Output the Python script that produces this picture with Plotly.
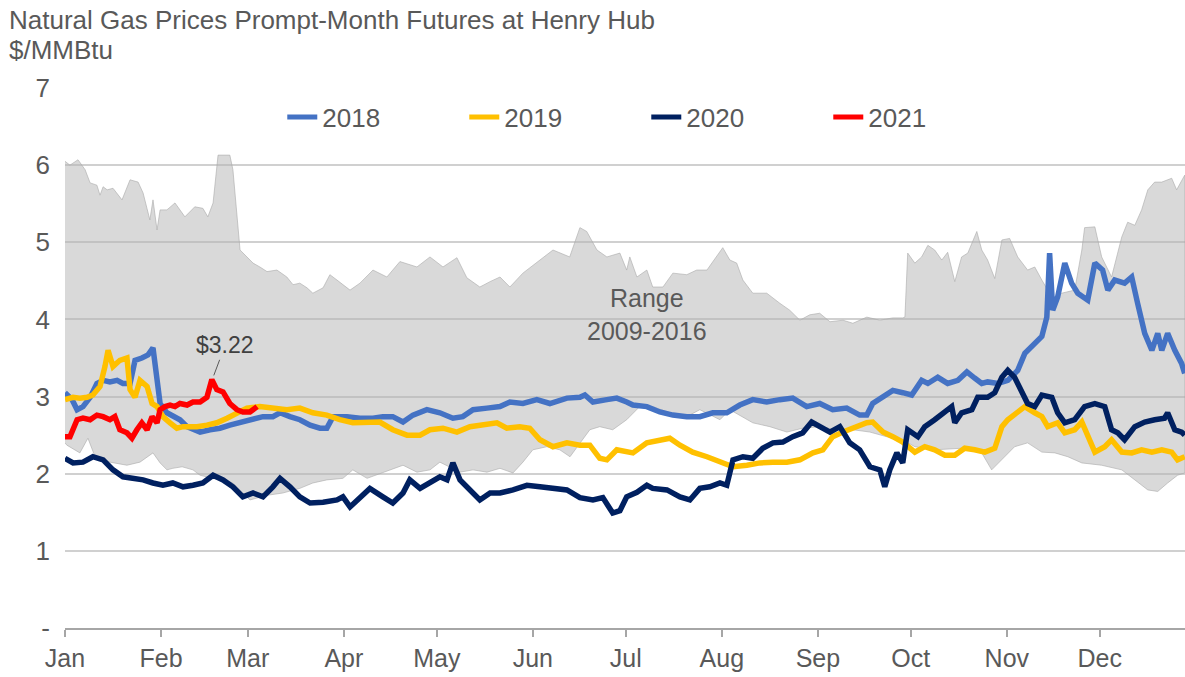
import plotly.graph_objects as go

# ---------------- data (day of year offsets from Jan 1, price in $/MMBtu) ----------------
month_days = [0, 31, 59, 90, 120, 151, 181, 212, 243, 273, 304, 334]
month_labels = ["Jan", "Feb", "Mar", "Apr", "May", "Jun", "Jul", "Aug", "Sep", "Oct", "Nov", "Dec"]
y_ticks = [0, 1, 2, 3, 4, 5, 6, 7]
y_labels = ["-", "1", "2", "3", "4", "5", "6", "7"]

range_hi_day = [0, 1.6, 4.2, 6.5, 8.1, 10.3, 11.3, 12.3, 13.6, 15.5, 18.4, 21, 23.6, 25.2, 27.4, 28.4, 29.7,
                30.7, 32.9, 35.5, 38.7, 41.9, 44.5, 46.1, 47.8, 49.4, 53.2, 54.2, 56.5, 58.7, 60.7, 62.9,
                65.2, 68.4, 71.6, 73.6, 75.8, 78.1, 80, 83.3, 85.5, 87.8, 91, 92, 95.2, 99.4, 103.9, 108.1,
                113.6, 117.8, 122, 126.5, 129.7, 133.9, 137.2, 140.4, 143.6, 147.8, 153.3, 157.5, 162.9,
                166.2, 168.4, 171.7, 174.9, 179.1, 181.3, 182.3, 184.6, 187.8, 189.7, 193, 196.2, 200.7,
                203.9, 207.2, 212.3, 214.6, 216.8, 218.8, 222, 226.5, 230.7, 233.9, 237.2, 240.4, 243.6,
                246.9, 251.1, 254.3, 258.8, 263, 267.2, 270.4, 271.1, 272, 274.3, 276.5, 278.5, 280.7, 283,
                284.9, 287.2, 289.4, 291.4, 294.3, 295.9, 297.8, 300.1, 302.4, 304.9, 307.5, 310.7, 313,
                315.3, 317.2, 319.5, 321.7, 325.9, 328.2, 329.1, 332.4, 334.6, 337.8, 341.1, 343, 345.3,
                347.5, 349.5, 351.7, 354, 357.2, 358.8, 361.4]
range_hi_val = [6.05, 6.0, 6.07, 5.94, 5.77, 5.74, 5.61, 5.72, 5.68, 5.7, 5.55, 5.81, 5.78, 5.64, 5.29, 5.55, 5.16,
                5.42, 5.42, 5.51, 5.33, 5.46, 5.44, 5.33, 5.51, 6.13, 6.13, 5.94, 4.9, 4.81, 4.73, 4.68,
                4.62, 4.64, 4.55, 4.45, 4.47, 4.41, 4.34, 4.41, 4.58, 4.51, 4.41, 4.38, 4.47, 4.64, 4.55, 4.75,
                4.68, 4.81, 4.68, 4.80, 4.54, 4.42, 4.49, 4.55, 4.42, 4.6, 4.77, 4.9, 4.81,
                5.19, 5.14, 4.9, 4.81, 4.86, 4.64, 4.81, 4.55, 4.64, 4.42, 4.42, 4.6, 4.58,
                4.64, 4.64, 4.93, 4.77, 4.73, 4.51, 4.34, 4.34, 4.21, 4.12, 3.99, 4.06, 4.08,
                3.97, 3.99, 3.95, 4.03, 3.99, 4.02, 4.02, 4.03, 4.86, 4.73, 4.81, 4.96, 4.9, 4.77,
                4.87, 4.49, 4.81, 4.86, 5.14, 4.9, 4.77, 4.53, 5.03, 5.05, 4.81, 4.64, 4.68,
                4.51, 4.38, 4.29, 4.34, 4.38, 4.9, 5.19, 5.2, 4.81, 4.55, 5.07, 5.26, 5.22,
                5.42, 5.68, 5.78, 5.78, 5.83, 5.68, 5.87]

range_lo_day = [0, 0.6, 4.8, 7.4, 9.7, 14.5, 20, 24.2, 28.4, 30.7, 32.9, 34.8, 37.8, 41.3, 43.6, 49, 54.2, 59.7,
                65.2, 70.3, 75.8, 80, 84.5, 89.7, 92.9, 97.5, 100.7, 104.9, 109.1, 113.6, 117.8, 121, 124.2,
                127.5, 131.7, 136.2, 140.4, 144.6, 147.8, 151, 155.5, 159.7, 163, 166.2, 169.4, 172.6, 176.8,
                181.3, 185.5, 189.7, 195.2, 200.7, 204.9, 211.4, 214.6, 222, 227.5, 233, 238.1, 243.6, 249.1,
                254.3, 259.8, 265.2, 270.4, 274.3, 280.7, 289.4, 295.9, 299.1, 301.1, 306.5, 310.7, 315.3,
                319.5, 323.7, 328.2, 334.6, 341.1, 345.3, 349.5, 352.7, 355.9, 359.1, 361.4]
range_lo_val = [2.4, 2.37, 2.27, 2.46, 2.22, 2.15, 2.11, 2.15, 2.27, 2.14, 2.05, 2.07, 2.09, 2.05, 1.98, 1.93, 1.88, 1.66,
                1.72, 1.75, 1.81, 1.88, 1.92, 1.94, 2.05, 1.94, 1.98, 2.05, 2.11, 2.02, 2.05, 2.15, 2.09,
                2.02, 2.05, 2.02, 2.07, 2.01, 2.15, 2.31, 2.35, 2.31, 2.22, 2.4, 2.57, 2.61, 2.57,
                2.7, 2.87, 2.87, 2.79, 2.74, 2.83, 2.7, 2.83, 2.66, 2.61, 2.54, 2.59, 2.61, 2.57,
                2.57, 2.54, 2.48, 2.44, 2.35, 2.31, 2.33, 2.27, 2.05, 2.14, 2.35, 2.4, 2.28,
                2.27, 2.22, 2.14, 2.11, 2.05, 1.92, 1.79, 1.77, 1.88, 1.98, 2.01]

day_2018 = [0, 2.3, 3.9, 5.8, 8.1, 10.3, 12.3, 14.5, 16.8, 18.7, 21, 22.6, 24.8, 26.8, 28.4, 29.7, 30.7, 32.9, 34.8,
            37.1, 39.4, 41.3, 43.6, 46.8, 50, 53.2, 57.4, 60.7, 63.9, 67.1, 69.4, 72.6, 75.8, 79.1, 82.3, 84.5,
            86.5, 91, 95.2, 99.4, 102.6, 105.8, 109.1, 112.3, 116.8, 121, 125.2, 128.4, 131.7, 136.2, 140.4,
            143.6, 147.8, 152.3, 156.5, 162, 166.2, 167.8, 170.4, 174.9, 178.1, 181.3, 183.3, 187.8, 192,
            196.2, 200.7, 204.9, 209.1, 213.6, 217.8, 222, 226.5, 230.7, 234.9, 239.4, 243.6, 247.8, 252.3,
            256.5, 258.8, 260.7, 264, 267.2, 270.4, 273.3, 276.5, 278.5, 281.7, 284.9, 288.2, 291.1, 293.6,
            295.9, 297.8, 301.1, 304.3, 307.5, 309.8, 313, 315.3, 316.9, 317.8, 318.8, 320.4, 322.7, 324.9,
            326.9, 330.1, 332.4, 334.9, 336.6, 338.8, 342, 344.3, 346.2, 348.5, 350.8, 352.7, 354, 355.9,
            358.2, 360.4, 361.4]
val_2018 = [3.05, 2.96, 2.83, 2.87, 2.99, 3.17, 3.21, 3.19, 3.21, 3.17, 3.17, 3.47, 3.5, 3.54, 3.63, 3.25, 2.91, 2.79, 2.74,
            2.7, 2.61, 2.57, 2.54, 2.57, 2.59, 2.63, 2.67, 2.7, 2.74, 2.74, 2.79, 2.74, 2.7, 2.63, 2.59, 2.59,
            2.74, 2.74, 2.72, 2.72, 2.74, 2.74, 2.67, 2.76, 2.83, 2.79, 2.72, 2.74, 2.83, 2.85, 2.87,
            2.93, 2.91, 2.96, 2.91, 2.98, 2.99, 3.02, 2.93, 2.96, 2.98, 2.93, 2.89, 2.87, 2.8,
            2.76, 2.74, 2.74, 2.79, 2.79, 2.89, 2.96, 2.93, 2.96, 2.98, 2.87, 2.91, 2.83, 2.85,
            2.76, 2.76, 2.91, 2.99, 3.08, 3.05, 3.02, 3.21, 3.17, 3.25, 3.17, 3.21, 3.32, 3.24,
            3.17, 3.19, 3.17, 3.21, 3.34, 3.56, 3.69, 3.78, 4.03, 4.86, 4.12, 4.29, 4.73, 4.47,
            4.34, 4.25, 4.73, 4.64, 4.38, 4.51, 4.47, 4.55, 4.21, 3.82, 3.6, 3.82, 3.6, 3.82,
            3.6, 3.43, 3.3]

day_2019 = [0, 2.6, 4.8, 7.1, 9, 11.3, 12.9, 13.9, 15.5, 17.7, 20, 21, 22.6, 24.2, 26.5, 28.1, 29.7, 31.6, 33.9,
            36.1, 38.1, 40.3, 42.6, 45.8, 49, 52.3, 55.5, 58.7, 62.9, 67.1, 71.6, 75.8, 80, 84.5, 88.7, 92.9,
            97.5, 101.6, 105.8, 110.4, 114.6, 117.8, 122, 126.5, 130.7, 134.9, 139.4, 142.6, 146.8, 150,
            153.3, 157.5, 162, 166.2, 169.4, 172.6, 174.9, 178.1, 181.3, 183.3, 187.8, 192, 195.2, 198.5,
            202.6, 207.2, 211.4, 215.6, 220.1, 224.3, 228.5, 233, 237.2, 241.4, 244.6, 247.8, 251.1, 254.3,
            258.8, 260.7, 264, 267.2, 270.4, 274.3, 277.5, 280.7, 284, 287.2, 290.4, 293.6, 296.9, 300.1,
            302.4, 304.3, 307.5, 309.8, 313, 315.3, 317.2, 320.4, 322.7, 325.9, 328.2, 330.1, 332.4, 335.6,
            337.8, 341.1, 344.3, 347.5, 350.8, 354, 357.2, 359.1, 361.4]
val_2019 = [2.96, 2.99, 2.98, 2.99, 3.02, 3.13, 3.39, 3.6, 3.39, 3.47, 3.5, 3.09, 2.99, 3.21, 3.13, 2.91, 2.87, 2.74, 2.66,
            2.59, 2.61, 2.61, 2.61, 2.63, 2.66, 2.72, 2.79, 2.85, 2.87, 2.85, 2.83, 2.85, 2.79, 2.76, 2.7, 2.66,
            2.67, 2.67, 2.57, 2.5, 2.5, 2.57, 2.59, 2.54, 2.61, 2.63, 2.66, 2.59, 2.61, 2.59,
            2.44, 2.35, 2.4, 2.37, 2.37, 2.2, 2.18, 2.31, 2.28, 2.27, 2.4, 2.44, 2.46, 2.37,
            2.28, 2.22, 2.15, 2.09, 2.11, 2.14, 2.15, 2.15, 2.18, 2.27, 2.31, 2.48, 2.54, 2.59,
            2.66, 2.67, 2.54, 2.48, 2.41, 2.28, 2.35, 2.31, 2.24, 2.24, 2.33, 2.31, 2.28, 2.33,
            2.61, 2.7, 2.79, 2.87, 2.79, 2.74, 2.61, 2.66, 2.53, 2.57, 2.67, 2.48, 2.28, 2.35,
            2.44, 2.28, 2.27, 2.31, 2.28, 2.31, 2.28, 2.18, 2.22]

day_2020 = [0, 2.6, 5.8, 9, 12.3, 15.5, 18.7, 21.9, 25.2, 28.4, 31.6, 34.8, 38.1, 41.3, 44.5, 47.8, 51, 54.2, 57.4,
            60.7, 63.9, 67.1, 69.4, 72.6, 75.8, 79.1, 83.3, 87.8, 89.7, 92, 95.2, 98.4, 102.6, 105.8, 109.1,
            111.3, 114.6, 117.8, 121, 123.3, 125.2, 127.5, 130.7, 133.9, 137.2, 140.4, 144.6, 149.1, 153.3,
            157.5, 162, 166.2, 170.4, 173.6, 176.8, 179.1, 181.3, 184.6, 187.8, 189.7, 194.3, 198.5, 201.7,
            204.9, 208.1, 211.4, 213.6, 215.6, 218.8, 222, 225.2, 228.5, 231.7, 234.9, 238.1, 241, 243.6,
            246.9, 250.1, 253.3, 256.5, 259.8, 263, 264.6, 266.2, 268.5, 270.4, 272, 275.3, 277.5, 280.7,
            284, 286.2, 287.2, 289.4, 292.7, 294.6, 297.8, 300.1, 302.4, 304.3, 306.5, 308.8, 310.7, 313,
            315.3, 318.5, 320.4, 322.7, 325.9, 329.1, 332.4, 335.6, 337.8, 339.8, 342, 345.3, 348.5, 351.7,
            354.9, 355.9, 358.2, 360.4, 361.4]
val_2020 = [2.2, 2.14, 2.15, 2.22, 2.18, 2.05, 1.96, 1.94, 1.92, 1.88, 1.85, 1.88, 1.83, 1.85, 1.88, 1.98, 1.92, 1.83, 1.7,
            1.75, 1.7, 1.83, 1.94, 1.83, 1.7, 1.62, 1.63, 1.66, 1.7, 1.57, 1.7, 1.81, 1.7, 1.62, 1.75,
            1.92, 1.81, 1.88, 1.96, 1.92, 2.14, 1.92, 1.79, 1.66, 1.75, 1.75, 1.79, 1.85, 1.83,
            1.81, 1.79, 1.69, 1.66, 1.69, 1.49, 1.52, 1.7, 1.76, 1.85, 1.81, 1.79, 1.7, 1.66,
            1.81, 1.83, 1.88, 1.85, 2.18, 2.22, 2.2, 2.33, 2.4, 2.41, 2.48, 2.53, 2.67, 2.61,
            2.54, 2.61, 2.4, 2.31, 2.09, 2.05, 1.83, 2.05, 2.27, 2.14, 2.57, 2.48, 2.61, 2.7,
            2.79, 2.87, 2.66, 2.79, 2.83, 2.99, 2.99, 3.05, 3.25, 3.34, 3.25, 3.05, 2.91, 2.87,
            3.02, 2.99, 2.79, 2.66, 2.7, 2.87, 2.91, 2.87, 2.57, 2.53, 2.44, 2.61, 2.67, 2.7,
            2.72, 2.79, 2.57, 2.54, 2.5]

day_2021 = [0, 1.6, 3.9, 5.8, 8.1, 10.3, 12.3, 14.5, 16.1, 17.7, 20, 21.6, 23.2, 24.8, 26.5, 28.1, 29.7, 30.7,
            32.3, 33.9, 35.5, 37.1, 39.4, 41.3, 43.6, 45.8, 47.4, 49, 51, 53.2, 55.5, 57.4, 59.7, 62]
val_2021 = [2.48, 2.48, 2.7, 2.72, 2.7, 2.76, 2.74, 2.7, 2.74, 2.57, 2.53, 2.46, 2.57, 2.66, 2.57, 2.74, 2.66, 2.83,
            2.87, 2.89, 2.87, 2.91, 2.89, 2.93, 2.93, 2.99, 3.22, 3.09, 3.06, 2.91, 2.83, 2.8, 2.8, 2.87]

series = [
    ("2018", day_2018, val_2018, "#4472C4"),
    ("2019", day_2019, val_2019, "#FFC000"),
    ("2020", day_2020, val_2020, "#002060"),
    ("2021", day_2021, val_2021, "#FF0000"),
]

TXT = "#595959"
FONT = "Arial, 'Liberation Sans', sans-serif"
FS = 26

fig = go.Figure()

# range band 2009-2016 as a closed polygon (max forward, min backward); translucent so gridlines show
fig.add_trace(go.Scatter(
    x=range_hi_day + range_lo_day[::-1],
    y=range_hi_val + range_lo_val[::-1],
    fill="toself", fillcolor="rgba(180,180,180,0.5)",
    line=dict(color="rgba(170,170,170,0.6)", width=1),
    mode="lines", showlegend=False, hoverinfo="skip",
))

for name, d, v, c in series:
    fig.add_trace(go.Scatter(
        x=d, y=v, name=name, mode="lines",
        line=dict(color=c, width=5.5),
    ))

fig.add_annotation(x=187.8, y=4.06, text="Range<br>2009-2016", showarrow=False,
                   font=dict(size=FS - 1, color=TXT, family=FONT))
fig.add_annotation(x=47.8, y=3.25, text="$3.22", showarrow=True, arrowhead=0,
                   arrowwidth=1, arrowcolor="#595959", ax=12, ay=-32, standoff=2,
                   font=dict(size=FS - 3, color="#404040", family=FONT))

# two-line chart title, placed relative to the plot area (left edge of page text at ~8px)
fig.add_annotation(xref="paper", yref="paper", x=-0.052, y=1.126, xanchor="left", yanchor="middle",
                   text="Natural Gas Prices Prompt-Month Futures at Henry Hub", showarrow=False,
                   font=dict(size=FS, color=TXT, family=FONT))
fig.add_annotation(xref="paper", yref="paper", x=-0.052, y=1.0704, xanchor="left", yanchor="middle",
                   text="$/MMBtu", showarrow=False,
                   font=dict(size=FS, color=TXT, family=FONT))

fig.update_layout(
    width=1185, height=677,
    margin=dict(l=65, r=0, t=88, b=49, autoexpand=False),
    paper_bgcolor="white", plot_bgcolor="white",
    font=dict(family=FONT, color=TXT, size=FS),
    legend=dict(orientation="h", x=0.194, xanchor="left", y=0.946, yanchor="middle",
                bgcolor="rgba(0,0,0,0)", font=dict(size=FS, color=TXT, family=FONT),
                entrywidth=137, entrywidthmode="pixels", itemsizing="constant"),
    xaxis=dict(range=[0, 361.5], tickmode="array", tickvals=month_days, ticktext=month_labels,
               showgrid=False, zeroline=False, showline=True, linecolor="#A6A6A6", linewidth=1.5,
               ticks="outside", ticklen=7, tickcolor="#A6A6A6", tickwidth=1.5,
               ticklabelstandoff=0, tickfont=dict(size=FS - 1, color=TXT, family=FONT)),
    yaxis=dict(range=[0, 7], tickmode="array", tickvals=y_ticks, ticktext=y_labels,
               showgrid=True, gridcolor="#D0D0D0", gridwidth=1.5, zeroline=False,
               showline=False, ticks="", ticklabelstandoff=14,
               tickfont=dict(size=FS, color=TXT, family=FONT)),
)

fig.write_html("out.html", config={"displayModeBar": False},
               post_script="document.body.style.margin='0';")
